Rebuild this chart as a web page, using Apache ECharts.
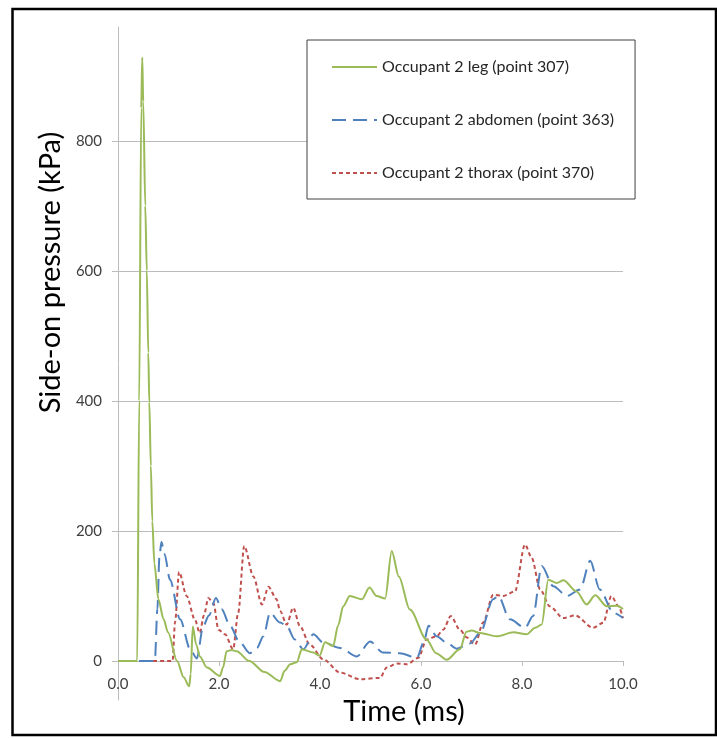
<!DOCTYPE html>
<html>
<head>
<meta charset="utf-8">
<script src="https://cdn.jsdelivr.net/npm/echarts@6/dist/echarts.min.js"></script>
<style>html,body{margin:0;padding:0;background:#fff;}#c{width:717px;height:738px;}</style>
</head>
<body>
<div id="c"></div>
<script>
const yTicks = [0, 200, 400, 600, 800];
const seriesNames = ['Occupant 2 leg (point 307)', 'Occupant 2 abdomen (point 363)', 'Occupant 2 thorax (point 370)'];

const legT = [0, 0.36, 0.38, 0.42, 0.46, 0.48, 0.5, 0.54, 0.57, 0.6, 0.62, 0.65, 0.68, 0.72, 0.8, 0.9, 0.99, 1.17, 1.3, 1.41, 1.44, 1.48, 1.55, 1.62, 1.76, 2.02, 2.08, 2.15, 2.25, 2.35, 2.6, 2.9, 3.21, 3.3, 3.41, 3.54, 3.64, 3.87, 3.99, 4.1, 4.26, 4.36, 4.46, 4.59, 4.83, 4.98, 5.12, 5.29, 5.42, 5.56, 5.78, 6.11, 6.3, 6.51, 6.77, 6.9, 7.0, 7.17, 7.5, 7.83, 8.09, 8.26, 8.39, 8.52, 8.69, 8.82, 9.08, 9.28, 9.45, 9.68, 9.88, 10];
const legP = [0, 0, 0, 400, 850, 928, 860, 700, 600, 474, 398, 300, 215, 150, 95, 65, 44, 0, -25, -39, -20, 53, 25, 7, -10, -23, -10, 15, 17, 15, 0, -17, -31, -15, -5, -2, 18, 13, 8, 29, 23, 55, 84, 100, 95, 113, 100, 96, 169, 130, 79, 33, 12, 2, 18, 45, 47, 43, 38, 44, 41, 51, 56, 125, 120, 124, 107, 87, 101, 84, 85, 80];

const abdT = [0, 0.73, 0.78, 0.82, 0.86, 0.92, 1.03, 1.23, 1.43, 1.56, 1.69, 1.8, 1.94, 2.05, 2.22, 2.4, 2.61, 2.75, 2.88, 3.01, 3.21, 3.34, 3.5, 3.67, 3.87, 4.07, 4.4, 4.73, 4.99, 5.25, 5.58, 5.92, 6.05, 6.15, 6.31, 6.51, 6.71, 6.97, 7.17, 7.43, 7.53, 7.76, 8.06, 8.22, 8.39, 8.62, 8.89, 9.15, 9.35, 9.54, 9.81, 10];
const abdP = [0, 0, 80, 160, 183, 165, 125, 64, 18, 4, 54, 70, 97, 80, 54, 30, 12, 20, 38, 74, 59, 54, 33, 18, 41, 28, 20, 7, 30, 13, 12, 5, 28, 54, 38, 28, 19, 27, 43, 95, 100, 64, 51, 69, 146, 115, 100, 110, 154, 110, 74, 66];

const thxT = [0, 1.08, 1.13, 1.21, 1.36, 1.52, 1.62, 1.7, 1.79, 1.89, 1.99, 2.12, 2.28, 2.38, 2.5, 2.68, 2.85, 2.98, 3.14, 3.21, 3.34, 3.47, 3.6, 3.8, 4.07, 4.4, 4.79, 5.19, 5.32, 5.52, 5.72, 5.95, 6.11, 6.31, 6.44, 6.59, 6.77, 6.91, 7.07, 7.23, 7.43, 7.63, 7.86, 8.06, 8.19, 8.36, 8.55, 8.82, 9.05, 9.41, 9.61, 9.77, 9.91, 10];
const thxP = [0, 0, 60, 137, 100, 64, 43, 70, 97, 89, 48, 41, 18, 74, 177, 130, 87, 114, 95, 77, 56, 82, 54, 25, 2, -18, -28, -26, -10, -4, -5, 5, 33, 38, 48, 69, 48, 36, 25, 59, 102, 100, 107, 179, 159, 110, 84, 66, 70, 51, 59, 100, 84, 66];

function pairs(t, p) { return t.map((v, i) => [v, p[i]]); }

const FONT = 'Lato';
const chart = echarts.init(document.getElementById('c'), null, {renderer: 'canvas'});
chart.setOption({
  animation: false,
  backgroundColor: '#ffffff',
  textStyle: {fontFamily: FONT},
  grid: {left: 118, right: 94, top: 27, bottom: 38, containLabel: false, outerBoundsMode: 'none'},
  graphic: [{
    type: 'rect', z: 100, silent: true,
    shape: {x: 12.5, y: 9, width: 703.5, height: 726},
    style: {fill: 'none', stroke: '#000', lineWidth: 2.5}
  }],
  legend: {
    orient: 'vertical', left: 307, top: 40,
    padding: [19, 21, 18, 24], itemGap: 37,
    itemWidth: 45, itemHeight: 14,
    backgroundColor: '#ffffff', borderColor: '#404040', borderWidth: 1,
    itemStyle: {opacity: 0},
    textStyle: {fontFamily: FONT, fontSize: 16, color: '#262626'},
    data: seriesNames
  },
  xAxis: {
    type: 'value', min: 0, max: 10, interval: 2,
    name: 'Time (ms)', nameLocation: 'middle', nameGap: -3, nameMoveOverlap: false,
    nameTextStyle: {fontFamily: FONT, fontSize: 29, color: '#000', padding: [0, 0, 0, 67]},
    axisLine: {onZero: true, lineStyle: {color: '#bcbcbc', width: 1}},
    axisTick: {show: true, inside: false, length: 5, lineStyle: {color: '#bcbcbc'}},
    axisLabel: {margin: -23, fontSize: 15, color: '#404040', fontFamily: FONT, formatter: v => v.toFixed(1)},
    splitLine: {show: false}
  },
  yAxis: {
    type: 'value', min: -60, max: 975,
    name: 'Side-on pressure (kPa)', nameLocation: 'middle', nameGap: 52,
    nameTextStyle: {fontFamily: FONT, fontSize: 29, color: '#000', padding: [0, 0, 0, 182]},
    axisLine: {show: true, lineStyle: {color: '#bcbcbc', width: 1}},
    axisTick: {show: true, inside: false, length: 6, customValues: yTicks, lineStyle: {color: '#bcbcbc'}},
    axisLabel: {margin: 16, fontSize: 15, color: '#404040', fontFamily: FONT, customValues: yTicks},
    splitLine: {show: true, lineStyle: {color: '#bcbcbc', width: 1}}
  },
  series: [
    {name: seriesNames[0], type: 'line', data: pairs(legT, legP), symbol: 'none', symbolSize: 0, smooth: 0.3, smoothMonotone: 'x',
     lineStyle: {color: '#9BBB59', width: 2, type: 'solid'}, itemStyle: {color: '#9BBB59'}, z: 3},
    {name: seriesNames[1], type: 'line', data: pairs(abdT, abdP), symbol: 'none', symbolSize: 0, smooth: 0.3, smoothMonotone: 'x',
     lineStyle: {color: '#4F81BD', width: 2, type: [14, 7]}, itemStyle: {color: '#4F81BD'}, z: 2},
    {name: seriesNames[2], type: 'line', data: pairs(thxT, thxP), symbol: 'none', symbolSize: 0, smooth: 0.3, smoothMonotone: 'x',
     lineStyle: {color: '#C0504D', width: 2, type: [4, 3]}, itemStyle: {color: '#C0504D'}, z: 1}
  ]
});
</script>
</body>
</html>
